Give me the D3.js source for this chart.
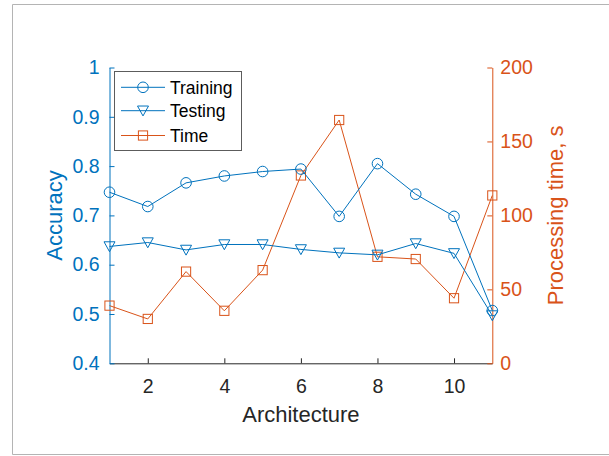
<!DOCTYPE html>
<html><head><meta charset="utf-8">
<script src="https://cdn.jsdelivr.net/npm/d3@7"></script>
<style>body{margin:0;background:#fff}svg{display:block}text{font-family:"Liberation Sans",Arial,sans-serif}</style>
</head><body>
<script>
const architecture = [1,2,3,4,5,6,7,8,9,10,11];
const training = [0.747,0.718,0.766,0.780,0.789,0.794,0.698,0.805,0.743,0.698,0.507];
const testing  = [0.637,0.645,0.630,0.641,0.641,0.631,0.624,0.620,0.643,0.623,0.497];
const timeSec  = [39,30,62,35.5,63,127,164.5,72,70.5,44,113.5];
const xTicks = [2,4,6,8,10];
const yLeftTicks = [0.4,0.5,0.6,0.7,0.8,0.9,1];
const yRightTicks = [0,50,100,150,200];
const seriesNames = ["Training","Testing","Time"];

const W=609,H=456;
const blue="#0072BD", orange="#D95319", dark="#262626";
const L=109.5,R=492.3,T=67.5,B=363.3;
const svg=d3.select("body").append("svg").attr("width",W).attr("height",H);

// figure frame
svg.append("path").attr("d",`M${W+2},4.5H12.5V454.5H${W+2}`).attr("fill","none").attr("stroke","#b4b4b4").attr("stroke-width",1);

const x=d3.scaleLinear().domain([1,11]).range([L,R]);
const yL=d3.scaleLinear().domain([0.4,1]).range([B,T]);
const yR=d3.scaleLinear().domain([0,200]).range([B,T]);

// axes
const gx=svg.append("g").attr("transform",`translate(0,${B})`)
  .call(d3.axisBottom(x).tickValues(xTicks).tickSizeInner(-5).tickSizeOuter(0).tickPadding(15.5));
gx.select(".domain").attr("stroke",dark);
gx.selectAll(".tick line").attr("stroke",dark);
gx.selectAll("text").attr("fill",dark).attr("font-size",19.5);

const gl=svg.append("g").attr("transform",`translate(${L},0)`)
  .call(d3.axisLeft(yL).tickValues(yLeftTicks).tickFormat(d3.format("~g")).tickSizeInner(-5).tickSizeOuter(0).tickPadding(10));
gl.select(".domain").attr("stroke",blue);
gl.selectAll(".tick line").attr("stroke",blue);
gl.selectAll("text").attr("fill",blue).attr("font-size",19.5);

const gr=svg.append("g").attr("transform",`translate(${R},0)`)
  .call(d3.axisRight(yR).tickValues(yRightTicks).tickSizeInner(-5).tickSizeOuter(0).tickPadding(8));
gr.select(".domain").attr("stroke",orange);
gr.selectAll(".tick line").attr("stroke",orange);
gr.selectAll("text").attr("fill",orange).attr("font-size",19.5);

// axis labels
svg.append("text").attr("x",(L+R)/2).attr("y",421.5).attr("text-anchor","middle").attr("fill",dark).attr("font-size",22).text("Architecture");
svg.append("text").attr("transform",`translate(61.5,${(T+B)/2}) rotate(-90)`).attr("text-anchor","middle").attr("fill",blue).attr("font-size",22).text("Accuracy");
svg.append("text").attr("transform",`translate(563,${(T+B)/2}) rotate(-90)`).attr("text-anchor","middle").attr("fill",orange).attr("font-size",22).text("Processing time, s");

const line=(ys,sc)=>d3.line().x((d,i)=>x(architecture[i])).y(d=>sc(d))(ys);

function circle(g,cx,cy,c){g.append("circle").attr("cx",cx).attr("cy",cy).attr("r",5.3).attr("fill","none").attr("stroke",c);}
function tri(g,cx,cy,c){const s=5.5;g.append("path").attr("d",`M${cx-s},${cy-s*0.85}L${cx+s},${cy-s*0.85}L${cx},${cy+s*0.95}Z`).attr("fill","none").attr("stroke",c);}
function sq(g,cx,cy,c){g.append("rect").attr("x",cx-4.6).attr("y",cy-4.6).attr("width",9.2).attr("height",9.2).attr("fill","none").attr("stroke",c);}

const gd=svg.append("g");
gd.append("path").attr("d",line(timeSec,yR)).attr("fill","none").attr("stroke",orange).attr("stroke-width",1);
timeSec.forEach((v,i)=>sq(gd,x(architecture[i]),yR(v),orange));
gd.append("path").attr("d",line(training,yL)).attr("fill","none").attr("stroke",blue).attr("stroke-width",1);
training.forEach((v,i)=>circle(gd,x(architecture[i]),yL(v),blue));
gd.append("path").attr("d",line(testing,yL)).attr("fill","none").attr("stroke",blue).attr("stroke-width",1);
testing.forEach((v,i)=>tri(gd,x(architecture[i]),yL(v),blue));

// legend
const lg=svg.append("g");
lg.append("rect").attr("x",114.5).attr("y",71.5).attr("width",127).attr("height",79).attr("fill","#fff").attr("stroke","#262626").attr("stroke-opacity",0.75);
const ly=[87.3,110.7,135.5];
const markers=[circle,tri,sq];
const cols=[blue,blue,orange];
seriesNames.forEach((n,i)=>{
  lg.append("line").attr("x1",121).attr("x2",165).attr("y1",ly[i]).attr("y2",ly[i]).attr("stroke",cols[i]);
  markers[i](lg,143,ly[i],cols[i]);
  lg.append("text").attr("x",170).attr("y",ly[i]).attr("dy","0.36em").attr("font-size",17.5).attr("fill","#000").text(n);
});
</script>
</body></html>
